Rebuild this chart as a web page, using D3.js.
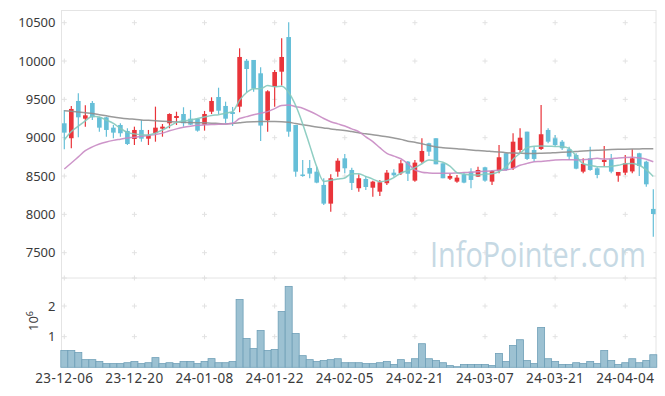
<!DOCTYPE html>
<html>
<head>
<meta charset="utf-8">
<script src="https://cdn.jsdelivr.net/npm/d3@7"></script>
<style>
body { margin: 0; background: #fff; }
text { font-family: "Noto Sans", sans-serif; }
</style>
</head>
<body>
<div id="chart"></div>
<script>
//x axis: one label every 10 trading days
var tickIdx = [0, 10, 20, 30, 40, 50, 60, 70, 80];
var tickLabels = ["23-12-06", "23-12-20", "24-01-08", "24-01-22", "24-02-05", "24-02-21", "24-03-07", "24-03-21", "24-04-04"];
var priceTicks = [7500, 8000, 8500, 9000, 9500, 10000, 10500];
var volTicks = [1e6, 2e6];

//daily candles
var open = [9188, 8993, 9479, 9248, 9453, 9266, 9266, 9131, 9166, 9088,
	8983, 9101, 8987, 9058, 9118, 9188, 9257, 9309, 9248, 9248,
	9170, 9339, 9531, 9414, 9335, 9405, 10004, 10014, 9840, 9227,
	9662, 9861, 10313, 9166, 8520, 8605, 8557, 8384, 8140, 8557,
	8731, 8579, 8341, 8462, 8348, 8296, 8406, 8544, 8536, 8688,
	8440, 8687, 8927, 8993, 8666, 8466, 8427, 8523, 8557, 8492,
	8614, 8427, 8566, 8797, 8601, 8840, 9079, 8840, 8853, 9101,
	8993, 8948, 8849, 8775, 8557, 8731, 8601, 8683, 8719, 8505,
	8544, 8560, 8797, 8687, 8071];
var high = [9362, 9414, 9579, 9423, 9479, 9274, 9274, 9166, 9188, 9123,
	9144, 9231, 9101, 9405, 9179, 9318, 9339, 9397, 9362, 9248,
	9349, 9527, 9652, 9470, 9401, 10166, 10027, 10014, 9920, 9620,
	9883, 10297, 10505, 9166, 8710, 8710, 8622, 8471, 8523, 8731,
	8788, 8609, 8523, 8501, 8440, 8449, 8579, 8588, 8710, 8697,
	8710, 8993, 8935, 8993, 8666, 8536, 8514, 8549, 8601, 8622,
	8622, 8579, 8905, 8797, 9058, 9123, 9079, 8883, 9427, 9123,
	9036, 8970, 8883, 8797, 8731, 8883, 8614, 8892, 8788, 8553,
	8775, 8849, 8805, 8700, 8327];
var low = [8849, 8862, 9006, 9144, 9231, 9079, 9013, 8993, 9013, 8905,
	8905, 8948, 8905, 8948, 9013, 9123, 9166, 9144, 9166, 9079,
	9092, 9309, 9309, 9188, 9153, 9332, 9592, 9600, 8957, 9079,
	9405, 9680, 9013, 8492, 8492, 8471, 8406, 8123, 8035, 8492,
	8536, 8318, 8296, 8318, 8231, 8240, 8384, 8492, 8514, 8436,
	8427, 8666, 8762, 8653, 8471, 8449, 8414, 8406, 8341, 8492,
	8427, 8384, 8536, 8566, 8579, 8797, 8710, 8687, 8840, 8927,
	8883, 8840, 8710, 8588, 8536, 8570, 8471, 8622, 8536, 8427,
	8514, 8536, 8501, 8361, 7709];
var close = [9066, 9375, 9266, 9292, 9266, 9131, 9101, 9066, 9058, 8918,
	9101, 8987, 9036, 9131, 9144, 9309, 9283, 9188, 9170, 9092,
	9309, 9479, 9352, 9248, 9309, 10053, 9896, 9640, 9158, 9605,
	9857, 10053, 9079, 8557, 8500, 8531, 8414, 8140, 8471, 8700,
	8601, 8410, 8471, 8357, 8427, 8419, 8544, 8510, 8666, 8530,
	8675, 8827, 8818, 8653, 8471, 8501, 8479, 8414, 8449, 8579,
	8440, 8566, 8745, 8579, 8948, 9000, 8723, 8723, 9045, 8948,
	8905, 8862, 8753, 8596, 8657, 8579, 8514, 8710, 8557, 8553,
	8666, 8731, 8631, 8392, 8005];
var volume = [546000, 546000, 480000, 250000, 250000, 186000, 120000, 120000, 120000, 150000,
	186000, 120000, 150000, 316000, 120000, 150000, 120000, 186000, 186000, 120000,
	186000, 283000, 150000, 150000, 186000, 2210000, 940000, 610000, 1200000, 546000,
	578000, 1820000, 2640000, 1100000, 380000, 250000, 186000, 220000, 250000, 280000,
	150000, 150000, 150000, 120000, 120000, 150000, 186000, 90000, 250000, 150000,
	280000, 770000, 280000, 220000, 150000, 55000, 20000, 90000, 90000, 90000,
	90000, 55000, 450000, 186000, 710000, 900000, 220000, 120000, 1300000, 280000,
	186000, 90000, 90000, 150000, 120000, 186000, 120000, 546000, 220000, 90000,
	150000, 280000, 150000, 220000, 410000];

//moving average lines as drawn (short, medium, long)
var maShort = [8970, 9080, 9150, 9220, 9280, 9270, 9230, 9188, 9120, 9070,
	9050, 9040, 9036, 9060, 9100, 9150, 9200, 9220, 9231, 9250,
	9270, 9290, 9300, 9320, 9340, 9490, 9590, 9640, 9640, 9680,
	9665, 9670, 9590, 9420, 9180, 8900, 8620, 8430, 8445, 8460,
	8475, 8530, 8530, 8495, 8460, 8427, 8440, 8480, 8540, 8570,
	8610, 8660, 8710, 8700, 8680, 8630, 8545, 8525, 8514, 8514,
	8525, 8530, 8557, 8620, 8720, 8797, 8870, 8890, 8892, 8890,
	8885, 8883, 8860, 8760, 8660, 8640, 8622, 8622, 8625, 8640,
	8660, 8665, 8640, 8580, 8495];
var maMid = [8592, 8670, 8750, 8830, 8880, 8918, 8945, 8965, 8980, 8995,
	9006, 9018, 9030, 9040, 9060, 9090, 9115, 9135, 9150, 9162,
	9168, 9172, 9175, 9179, 9188, 9250, 9275, 9300, 9320, 9340,
	9380, 9420, 9425, 9405, 9384, 9345, 9300, 9250, 9209, 9180,
	9153, 9115, 9079, 9010, 8948, 8870, 8796, 8760, 8725, 8660,
	8580, 8550, 8540, 8536, 8536, 8536, 8540, 8545, 8549, 8555,
	8562, 8568, 8574, 8580, 8600, 8640, 8665, 8685, 8690, 8700,
	8710, 8712, 8712, 8710, 8712, 8720, 8731, 8722, 8725, 8735,
	8742, 8744, 8736, 8720, 8687];
var maLong = [9352, 9345, 9335, 9325, 9315, 9300, 9285, 9270, 9258, 9248,
	9240, 9232, 9226, 9220, 9215, 9210, 9205, 9200, 9198, 9196,
	9194, 9190, 9185, 9180, 9185, 9195, 9205, 9209, 9210, 9210,
	9210, 9208, 9200, 9185, 9170, 9155, 9140, 9128, 9115, 9105,
	9095, 9080, 9065, 9050, 9040, 9025, 9013, 8995, 8978, 8955,
	8940, 8920, 8900, 8880, 8870, 8862, 8855, 8848, 8840, 8832,
	8828, 8820, 8812, 8805, 8800, 8797, 8795, 8795, 8797, 8800,
	8805, 8810, 8815, 8820, 8828, 8832, 8836, 8840, 8845, 8848,
	8850, 8852, 8854, 8856, 8857];

var config = {
	w: 665, h: 396,
	left: 61.5, right: 656,
	top: 10.5, sep: 278,        //price panel top, border between the panels
	volBottom: 367.3,
	up: "#e9343a",              //red = close above open
	down: "#66bfd8",
	grid: "#e2e2e2",
	frame: "#e4e4e4",
	label: "#3a3a3a"
};

var n = close.length;
var svg = d3.select("#chart").append("svg")
	.attr("width", config.w)
	.attr("height", config.h);

//scales
var x = d3.scaleLinear().domain([0, n - 1]).range([64.3, 653.3]);
var step = x(1) - x(0);
var y = d3.scaleLinear().domain([7500, 10500]).range([252.7, 22.7]);
var yv = d3.scaleLinear().domain([0, 2e6]).range([config.volBottom, 306]);

/////////////////// frame and grid marks ///////////////////
var frame = svg.append("g");
frame.append("rect")
	.attr("x", config.left).attr("y", config.top)
	.attr("width", config.right - config.left)
	.attr("height", config.sep - config.top)
	.attr("fill", "none")
	.attr("stroke", config.frame);
frame.append("line")
	.attr("x1", config.left).attr("x2", config.left)
	.attr("y1", config.sep).attr("y2", config.volBottom)
	.attr("stroke", config.frame);
frame.append("line")
	.attr("x1", config.right).attr("x2", config.right)
	.attr("y1", config.sep).attr("y2", config.volBottom)
	.attr("stroke", config.frame);

//little plus signs where the grid lines would cross
var crossY = priceTicks.map(function(d){ return y(d); })
	.concat([config.sep])
	.concat(volTicks.map(function(d){ return yv(d); }));
var crosses = [];
tickIdx.forEach(function(t){
	crossY.forEach(function(cy){ crosses.push([x(t), cy]); });
});
frame.selectAll(".plus")
	.data(crosses)
	.join("path")
	.attr("class", "plus")
	.attr("d", function(d){
		return "M" + (d[0] - 2.5) + "," + d[1] + "h5M" + d[0] + "," + (d[1] - 2.5) + "v5";
	})
	.attr("stroke", config.grid)
	.attr("stroke-width", 1);

//short marks on the right border
frame.selectAll(".rtick")
	.data(crossY)
	.join("line")
	.attr("x1", config.right - 2.5).attr("x2", config.right)
	.attr("y1", function(d){ return d; }).attr("y2", function(d){ return d; })
	.attr("stroke", config.grid);

/////////////////// watermark ///////////////////
//size the font so the word fits 216px, then stretch it back up to 34px tall
var wm = svg.append("text")
	.style("font-size", "34px")
	.style("font-family", "'Open Sans', sans-serif")
	.attr("fill", "#c6d9e4")
	.text("InfoPointer.com");
var wmSize = 34 * 216 / wm.node().getComputedTextLength();
wm.style("font-size", wmSize + "px")
	.attr("transform", "translate(430,266.5) scale(1," + (34 / wmSize) + ")");

/////////////////// axes labels ///////////////////
svg.selectAll(".ylab")
	.data(priceTicks)
	.join("text")
	.attr("class", "ylab")
	.attr("x", 55.5)
	.attr("y", function(d){ return y(d); })
	.attr("dy", "0.36em")
	.attr("text-anchor", "end")
	.attr("fill", config.label)
	.style("font-size", "13px")
	.text(function(d){ return d; });

svg.selectAll(".vlab")
	.data(volTicks)
	.join("text")
	.attr("class", "vlab")
	.attr("x", 55.5)
	.attr("y", function(d){ return yv(d); })
	.attr("dy", "0.36em")
	.attr("text-anchor", "end")
	.attr("fill", config.label)
	.style("font-size", "13px")
	.text(function(d){ return d / 1e6; });

var unit = svg.append("text")
	.attr("transform", "translate(37.5,321) rotate(-90)")
	.attr("text-anchor", "middle")
	.attr("fill", config.label)
	.style("font-size", "13px");
unit.append("tspan").text("10");
unit.append("tspan").attr("dy", "-0.45em").style("font-size", "9px").text("6");

svg.selectAll(".xlab")
	.data(tickIdx)
	.join("text")
	.attr("class", "xlab")
	.attr("x", function(d){ return x(d); })
	.attr("y", 382.5)
	.attr("text-anchor", "middle")
	.attr("fill", config.label)
	.style("font-size", "13.5px")
	.style("letter-spacing", "0.4px")
	.text(function(d, i){ return tickLabels[i]; });

/////////////////// volume bars ///////////////////
svg.append("g").selectAll("rect")
	.data(volume)
	.join("rect")
	.attr("x", function(d, i){ return x(i) - step / 2; })
	.attr("width", step)
	.attr("y", function(d){ return yv(d); })
	.attr("height", function(d){ return config.volBottom - yv(d); })
	.attr("fill", "#9cc1d2")
	.attr("stroke", "#6e9fb7")
	.attr("stroke-width", 0.8);

/////////////////// candles ///////////////////
var idx = d3.range(n);
var candles = svg.append("g").selectAll("g")
	.data(idx)
	.join("g")
	.attr("fill", function(i){ return close[i] >= open[i] ? config.up : config.down; })
	.attr("stroke", function(i){ return close[i] >= open[i] ? config.up : config.down; });

candles.append("line")
	.attr("x1", function(i){ return x(i); })
	.attr("x2", function(i){ return x(i); })
	.attr("y1", function(i){ return y(high[i]); })
	.attr("y2", function(i){ return y(low[i]); })
	.attr("stroke-width", 1.2);

var bodyW = step * 0.66;
candles.append("rect")
	.attr("x", function(i){ return x(i) - bodyW / 2; })
	.attr("width", bodyW)
	.attr("y", function(i){ return y(Math.max(open[i], close[i])); })
	.attr("height", function(i){ return Math.max(1.5, Math.abs(y(open[i]) - y(close[i]))); })
	.attr("stroke", "none");

/////////////////// moving averages ///////////////////
var line = d3.line()
	.x(function(d, i){ return x(i); })
	.y(function(d){ return y(d); })
	.curve(d3.curveMonotoneX);

[[maLong, "#8f8f8f"], [maMid, "#c88ac3"], [maShort, "#84c9bd"]].forEach(function(m){
	svg.append("path")
		.attr("d", line(m[0]))
		.attr("fill", "none")
		.attr("stroke", m[1])
		.attr("stroke-width", 1.5)
		.attr("opacity", 0.9);
});
</script>
</body>
</html>
